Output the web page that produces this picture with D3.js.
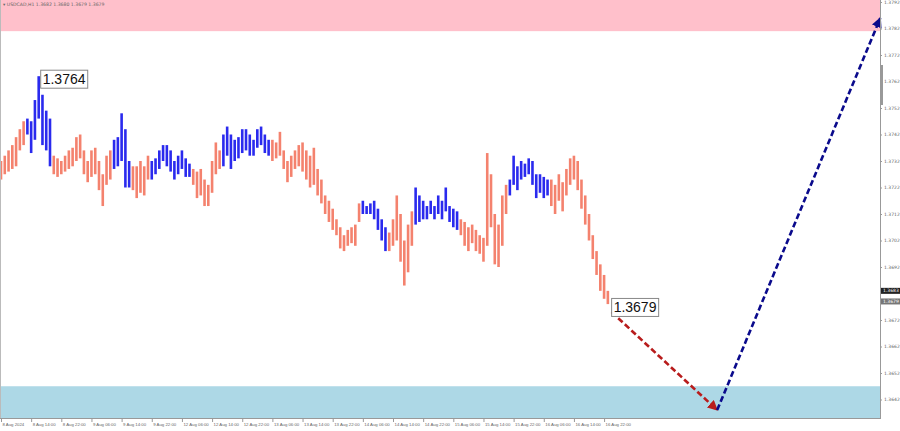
<!DOCTYPE html>
<html><head><meta charset="utf-8">
<script src="https://cdn.jsdelivr.net/npm/d3@7"></script>
<style>html,body{margin:0;padding:0;background:#fff;}svg{display:block;}</style>
</head><body>
<svg id="chart" width="900" height="431"></svg>
<script>
const title = "▾ USDCAD,H1  1.3682 1.3680 1.3679 1.3679";
const highs = [1.3732,1.3734,1.3736,1.3738,1.3741,1.3744,1.3747,1.3748,1.3747,1.3755,
1.3764,1.3757,1.3751,1.3748,1.3734,1.3733,1.3732,1.3734,1.3736,1.3737,
1.3741,1.3742,1.3736,1.3732,1.3736,1.3737,1.3732,1.3727,1.3734,1.3736,
1.3740,1.3741,1.3750,1.3744,1.3732,1.3730,1.3730,1.3732,1.3730,1.3734,
1.3732,1.3733,1.3736,1.3738,1.3738,1.3736,1.3732,1.3734,1.3736,1.3733,
1.3731,1.3729,1.3728,1.3729,1.3725,1.3723,1.3732,1.3739,1.3736,1.3742,
1.3745,1.3742,1.3740,1.3741,1.3744,1.3744,1.3742,1.3740,1.3744,1.3745,
1.3742,1.3740,1.3740,1.3739,1.3743,1.3736,1.3732,1.3734,1.3736,1.3738,
1.3739,1.3736,1.3734,1.3737,1.3729,1.3725,1.3719,1.3717,1.3714,1.3710,
1.3707,1.3704,1.3706,1.3707,1.3708,1.3716,1.3717,1.3715,1.3716,1.3717,
1.3714,1.3710,1.3707,1.3705,1.3710,1.3719,1.3712,1.3702,1.3708,1.3713,
1.3722,1.3719,1.3717,1.3715,1.3717,1.3715,1.3719,1.3717,1.3722,1.3715,
1.3714,1.3713,1.3710,1.3709,1.3707,1.3708,1.3706,1.3704,1.3703,1.3735,
1.3727,1.3712,1.3708,1.3719,1.3723,1.3725,1.3734,1.3730,1.3732,1.3731,
1.3733,1.3732,1.3727,1.3727,1.3726,1.3725,1.3725,1.3723,1.3727,1.3724,
1.3729,1.3733,1.3734,1.3732,1.3725,1.3719,1.3712,1.3704,1.3698,1.3693,
1.3689,1.3683];
const lows = [1.3725,1.3727,1.3728,1.3729,1.3730,1.3736,1.3738,1.3742,1.3735,1.3740,
1.3748,1.3738,1.3736,1.3730,1.3727,1.3726,1.3727,1.3728,1.3729,1.3730,
1.3732,1.3733,1.3727,1.3724,1.3726,1.3727,1.3721,1.3715,1.3723,1.3725,
1.3729,1.3730,1.3732,1.3722,1.3722,1.3721,1.3718,1.3720,1.3719,1.3725,
1.3725,1.3727,1.3729,1.3732,1.3730,1.3728,1.3725,1.3727,1.3729,1.3726,
1.3726,1.3723,1.3718,1.3719,1.3715,1.3715,1.3720,1.3727,1.3729,1.3730,
1.3734,1.3729,1.3732,1.3733,1.3735,1.3736,1.3734,1.3734,1.3737,1.3738,
1.3735,1.3734,1.3732,1.3733,1.3734,1.3729,1.3724,1.3726,1.3729,1.3730,
1.3728,1.3725,1.3722,1.3723,1.3719,1.3716,1.3712,1.3709,1.3706,1.3704,
1.3699,1.3698,1.3700,1.3701,1.3700,1.3709,1.3712,1.3712,1.3712,1.3710,
1.3706,1.3702,1.3698,1.3698,1.3700,1.3702,1.3694,1.3685,1.3690,1.3700,
1.3708,1.3709,1.3710,1.3710,1.3712,1.3710,1.3712,1.3710,1.3713,1.3709,
1.3707,1.3706,1.3704,1.3700,1.3698,1.3701,1.3698,1.3697,1.3694,1.3700,
1.3707,1.3693,1.3692,1.3700,1.3712,1.3719,1.3723,1.3721,1.3725,1.3726,
1.3727,1.3723,1.3718,1.3720,1.3718,1.3719,1.3715,1.3712,1.3717,1.3713,
1.3719,1.3723,1.3725,1.3721,1.3714,1.3708,1.3702,1.3695,1.3689,1.3683,
1.3680,1.3678];
// wave segments drawn in blue (bar index ranges)
const blueWaves = [[7,13],[30,34],[40,50],[59,71],[96,102],[110,121],[135,145]];
const priceTicks = [1.3792,1.3782,1.3772,1.3762,1.3752,1.3742,1.3732,1.3722,1.3712,1.3702,1.3692,1.3672,1.3662,1.3652,1.3642];
const timeLabels = ["8 Aug 2024","8 Aug 14:00","8 Aug 22:00","9 Aug 06:00","9 Aug 14:00","9 Aug 22:00",
"12 Aug 06:00","12 Aug 14:00","12 Aug 22:00","13 Aug 06:00","13 Aug 14:00","13 Aug 22:00",
"14 Aug 06:00","14 Aug 14:00","14 Aug 22:00","15 Aug 06:00","15 Aug 14:00","15 Aug 22:00",
"16 Aug 06:00","16 Aug 14:00","16 Aug 22:00"];
const labelStep = 8;
const resistanceZone = [1.3781, 1.3800];
const supportZone = [1.3635, 1.3647];
const forecastIdx = [162, 190, 233.3];
const forecastPrice = [1.3675, 1.3638, 1.3786];
const peakLabel = {idx: 10, price: 1.3764};
const lastLabel = {idx: 162, price: 1.3679};
const bidAsk = [1.3683, 1.3679];

const svg = d3.select("#chart");
const W = 900, H = 431, plotR = 880, plotB = 418;
const x = d3.scaleLinear().domain([0, 233.2]).range([1, plotR]);
const y = d3.scaleLinear().domain([1.3792, 1.3642]).range([2, 399.5]);

svg.append("rect").attr("width", W).attr("height", H).attr("fill", "#fff");
const plot = svg.append("g");
svg.append("clipPath").attr("id","clip").append("rect").attr("x",0).attr("y",0).attr("width",plotR).attr("height",plotB);
plot.attr("clip-path","url(#clip)");

// zones
plot.append("rect").attr("x",0).attr("width",plotR)
  .attr("y", y(resistanceZone[1])).attr("height", y(resistanceZone[0]) - y(resistanceZone[1]))
  .attr("fill","#ffc0cb");
plot.append("rect").attr("x",0).attr("width",plotR)
  .attr("y", y(supportZone[1])).attr("height", y(supportZone[0]) - y(supportZone[1]))
  .attr("fill","#add8e6");

// title
svg.append("text").attr("x",3).attr("y",6).attr("font-family","DejaVu Sans").attr("font-size",4.6)
  .attr("fill","#666").text(title);

// bars
const isBlue = i => blueWaves.some(([a,b]) => i >= a && i <= b);
const bars = highs.map((h,i) => ({i, h, l: lows[i]}));
plot.append("g").selectAll("line").data(bars).join("line")
  .attr("x1", d => x(d.i)).attr("x2", d => x(d.i))
  .attr("y1", d => y(d.h)).attr("y2", d => y(d.l))
  .attr("stroke", d => isBlue(d.i) ? "#2a2aee" : "#f4826e")
  .attr("stroke-width", 2.6);

// arrows
const defs = svg.append("defs");
function marker(id, color) {
  defs.append("marker").attr("id", id).attr("viewBox","0 0 10 10").attr("refX",9).attr("refY",5)
    .attr("markerWidth",4).attr("markerHeight",4).attr("orient","auto")
    .append("path").attr("d","M0,0 L10,5 L0,10 Z").attr("fill", color);
}
marker("mr","#b81c1c"); marker("mb","#0a0a8c");
const fc = forecastIdx.map((d,i) => [x(d), y(forecastPrice[i])]);
svg.append("line").attr("x1",fc[0][0]).attr("y1",fc[0][1]).attr("x2",fc[1][0]).attr("y2",fc[1][1])
  .attr("stroke","#b81c1c").attr("stroke-width",2.6).attr("stroke-dasharray","6,3").attr("marker-end","url(#mr)");
svg.append("line").attr("x1",fc[1][0]).attr("y1",fc[1][1]).attr("x2",fc[2][0]).attr("y2",fc[2][1])
  .attr("stroke","#0a0a8c").attr("stroke-width",2.6).attr("stroke-dasharray","6,3").attr("marker-end","url(#mb)");

// price labels
function priceBox(px, py, txt) {
  const g = svg.append("g");
  const t = g.append("text").attr("x", px + 2).attr("y", py + 5).attr("font-family","Liberation Sans, Arial")
    .attr("font-size",14).attr("fill","#111").text(txt);
  const bb = t.node().getBBox();
  g.insert("rect","text").attr("x", bb.x - 2).attr("y", bb.y - 1).attr("width", bb.width + 4).attr("height", bb.height + 2)
    .attr("fill","#fff").attr("stroke","#888").attr("stroke-width",1);
}
priceBox(x(peakLabel.idx) + 2, y(peakLabel.price) + 3, peakLabel.price.toFixed(4));
priceBox(x(lastLabel.idx) + 0, y(lastLabel.price) + 6, lastLabel.price.toFixed(4));

// axes frame
svg.append("line").attr("x1",0).attr("x2",plotR).attr("y1",plotB+0.5).attr("y2",plotB+0.5).attr("stroke","#999");
svg.append("line").attr("x1",plotR+0.5).attr("x2",plotR+0.5).attr("y1",0).attr("y2",plotB+1).attr("stroke","#999");
svg.append("line").attr("x1",0.5).attr("x2",0.5).attr("y1",0).attr("y2",plotB).attr("stroke","#bbb");
svg.append("rect").attr("x",plotR+1).attr("y",65).attr("width",2).attr("height",40).attr("fill","#999");

// right axis
const ra = svg.append("g").attr("transform",`translate(${plotR},0)`)
  .call(d3.axisRight(y).tickValues(priceTicks).tickSize(2).tickFormat(d3.format(".4f")));
ra.select(".domain").remove();
ra.selectAll("line").attr("stroke","#999");
ra.selectAll("text").attr("font-family","DejaVu Sans").attr("font-size",4.5).attr("fill","#666").attr("x",4);

// bid/ask boxes
bidAsk.forEach((p,i) => {
  svg.append("rect").attr("x",plotR+1).attr("y",y(p)-3).attr("width",19).attr("height",6)
    .attr("fill", i===0 ? "#222" : "#777");
  svg.append("text").attr("x",plotR+3).attr("y",y(p)+1.6).attr("font-family","DejaVu Sans").attr("font-size",4.5)
    .attr("fill","#fff").text(p.toFixed(4));
});

// bottom axis
const tickIdx = timeLabels.map((_,i) => i*labelStep);
const ba = svg.append("g").attr("transform",`translate(0,${plotB+1})`)
  .call(d3.axisBottom(x).tickValues(tickIdx).tickSize(3).tickFormat((d,i) => timeLabels[i]));
ba.select(".domain").remove();
ba.selectAll("line").attr("stroke","#999");
ba.selectAll("text").attr("font-family","Liberation Sans, Arial").attr("font-size",4.3).attr("fill","#666")
  .attr("text-anchor","start").attr("dx",1).attr("y",4);
</script>
</body></html>
